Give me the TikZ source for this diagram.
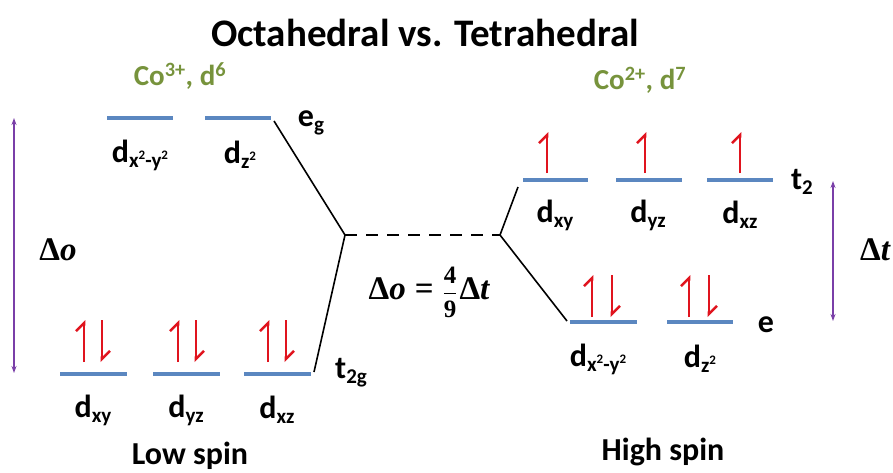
\documentclass[tikz,border=0pt]{standalone}
\usepackage{amsmath}
\usepackage{fontspec}
\setmainfont{Carlito}
\newfontfamily\mser{Liberation Serif}
\usetikzlibrary{arrows.meta}
\definecolor{lvlblue}{HTML}{5B87C0}
\definecolor{elred}{HTML}{E0141E}
\definecolor{cogreen}{HTML}{77933C}
\definecolor{splitviolet}{HTML}{7A3FA8}
\newcommand{\sbs}[1]{\raisebox{-0.16em}{\fontsize{21}{21}\selectfont #1}}
\newcommand{\sqd}{\raisebox{0.38em}{\fontsize{13}{13}\selectfont 2}}
\newcommand{\var}[1]{{\mser\bfseries\itshape #1}}
\newcommand{\frc}[2]{{\fontsize{25}{25}\selectfont\mser\bfseries$\genfrac{}{}{1.4pt}{0}{\hbox{#1}}{\hbox{#2}}$}}
\tikzset{
  orbline/.style={draw=lvlblue, line width=3.6pt},
  spinup/.style={draw=elred, line width=2.6pt, -{Straight Barb[left,length=8pt,width=16pt]}},
  spindown/.style={draw=elred, line width=2.6pt, -{Straight Barb[left,length=8pt,width=16pt]}},
  conn/.style={draw=black, line width=1.6pt},
  dashconn/.style={draw=black, line width=2.6pt, dash pattern=on 12pt off 9pt},
  splitarr/.style={draw=splitviolet, line width=1.6pt, {Stealth[length=7pt,width=5pt]}-{Stealth[length=7pt,width=5pt]}},
  lbl/.style={font=\fontsize{32}{32}\selectfont\bfseries, inner sep=0pt},
  big/.style={font=\fontsize{32}{32}\selectfont\bfseries, inner sep=0pt},
  ion/.style={font=\fontsize{29}{29}\selectfont\bfseries, text=cogreen, inner sep=0pt},
  mth/.style={font=\fontsize{33}{33}\selectfont\mser\bfseries, inner sep=0pt}
}
\begin{document}
\begin{tikzpicture}[x=1pt,y=-1pt]
\useasboundingbox (0,0) rectangle (893,472);
% title
\node[font=\fontsize{39}{39}\selectfont\bfseries, inner sep=0pt] (title) at (425,33) {Octahedral vs. Tetrahedral};
\node[ion] (co3) at (180,76) {Co\textsuperscript{3+}, d\textsuperscript{6}};
\node[ion] (co2) at (640,80) {Co\textsuperscript{2+}, d\textsuperscript{7}};

% ---- left: octahedral eg
\coordinate (eg1a) at (107,118); \coordinate (eg1b) at (173,118);
\coordinate (eg2a) at (205,118); \coordinate (eg2b) at (271,118);
\draw[orbline] (eg1a) -- (eg1b);
\draw[orbline] (eg2a) -- (eg2b);
\node[lbl] (egl) at (311,123) {e\sbs{g}};
\node[lbl] (dx2y2o) at (140,155) {d\sbs{x\sqd-y\sqd}};
\node[lbl] (dz2o) at (240,155) {d\sbs{z\sqd}};

% ---- left: t2g
\coordinate (t1a) at (60,374);  \coordinate (t1b) at (127,374);
\coordinate (t2a) at (153,374); \coordinate (t2b) at (220,374);
\coordinate (t3a) at (244,374); \coordinate (t3b) at (311,374);
\draw[orbline] (t1a) -- (t1b);
\draw[orbline] (t2a) -- (t2b);
\draw[orbline] (t3a) -- (t3b);
\node[lbl] (t2gl) at (351,373) {t\sbs{2g}};
\foreach \c/\n in {93/a,187/b,277/c}{
  \coordinate (lu\n0) at (\c-9,362); \coordinate (lu\n1) at (\c-9,320);
  \coordinate (ld\n0) at (\c+9,320); \coordinate (ld\n1) at (\c+9,362);
  \draw[spinup] (lu\n0) -- (lu\n1);
  \draw[spindown] (ld\n0) -- (ld\n1);
}
\node[lbl] (dxyo) at (93,410) {d\sbs{xy}};
\node[lbl] (dyzo) at (186,410) {d\sbs{yz}};
\node[lbl] (dxzo) at (277,410) {d\sbs{xz}};
\node[big] (low) at (190,456) {Low spin};

% ---- barycentre connectors
\coordinate (bl) at (345,235);
\coordinate (br) at (500,235);
\coordinate (egend) at (274,121);
\coordinate (t2gend) at (314,372);
\draw[conn] (egend) -- (bl);
\draw[conn] (bl) -- (t2gend);
\draw[dashconn] (bl) -- (br);
\coordinate (t2start) at (518,187);
\coordinate (estart) at (567,321);
\draw[conn] (br) -- (t2start);
\draw[conn] (br) -- (estart);
\node[mth] (rel) at (429,292) {Δ\var{o}\kern9pt=\kern9pt\frc{4}{9}\kern2ptΔ\var{t}};

% ---- right: tetrahedral t2
\coordinate (r1a) at (523,180); \coordinate (r1b) at (588,180);
\coordinate (r2a) at (616,180); \coordinate (r2b) at (682,180);
\coordinate (r3a) at (707,180); \coordinate (r3b) at (773,180);
\draw[orbline] (r1a) -- (r1b);
\draw[orbline] (r2a) -- (r2b);
\draw[orbline] (r3a) -- (r3b);
\node[lbl] (t2l) at (802,182) {t\sbs{2}};
\foreach \c/\n in {547/a,645/b,740/c}{
  \coordinate (ru\n0) at (\c,173); \coordinate (ru\n1) at (\c,132);
  \draw[spinup] (ru\n0) -- (ru\n1);
}
\node[lbl] (dxyt) at (555,215) {d\sbs{xy}};
\node[lbl] (dyzt) at (648,215) {d\sbs{yz}};
\node[lbl] (dxzt) at (740,215) {d\sbs{xz}};

% ---- right: e
\coordinate (e1a) at (570,322); \coordinate (e1b) at (637,322);
\coordinate (e2a) at (667,322); \coordinate (e2b) at (733,322);
\draw[orbline] (e1a) -- (e1b);
\draw[orbline] (e2a) -- (e2b);
\node[lbl] (el) at (766,325) {e};
\foreach \c/\n in {602/a,699/b}{
  \coordinate (eu\n0) at (\c-10,317); \coordinate (eu\n1) at (\c-10,275);
  \coordinate (ed\n0) at (\c+10,275); \coordinate (ed\n1) at (\c+10,317);
  \draw[spinup] (eu\n0) -- (eu\n1);
  \draw[spindown] (ed\n0) -- (ed\n1);
}
\node[lbl] (dx2y2t) at (598,359) {d\sbs{x\sqd-y\sqd}};
\node[lbl] (dz2t) at (700,359) {d\sbs{z\sqd}};
\node[big] (high) at (663,452) {High spin};

% ---- splitting arrows
\coordinate (lo1) at (14,118); \coordinate (lo2) at (14,373);
\draw[splitarr] (lo1) -- (lo2);
\node[mth] (dol) at (58,250) {Δ\var{o}};
\coordinate (rt1) at (833,181); \coordinate (rt2) at (833,321);
\draw[splitarr] (rt1) -- (rt2);
\node[mth] (dtl) at (875,250) {Δ\var{t}};
\end{tikzpicture}
\end{document}
